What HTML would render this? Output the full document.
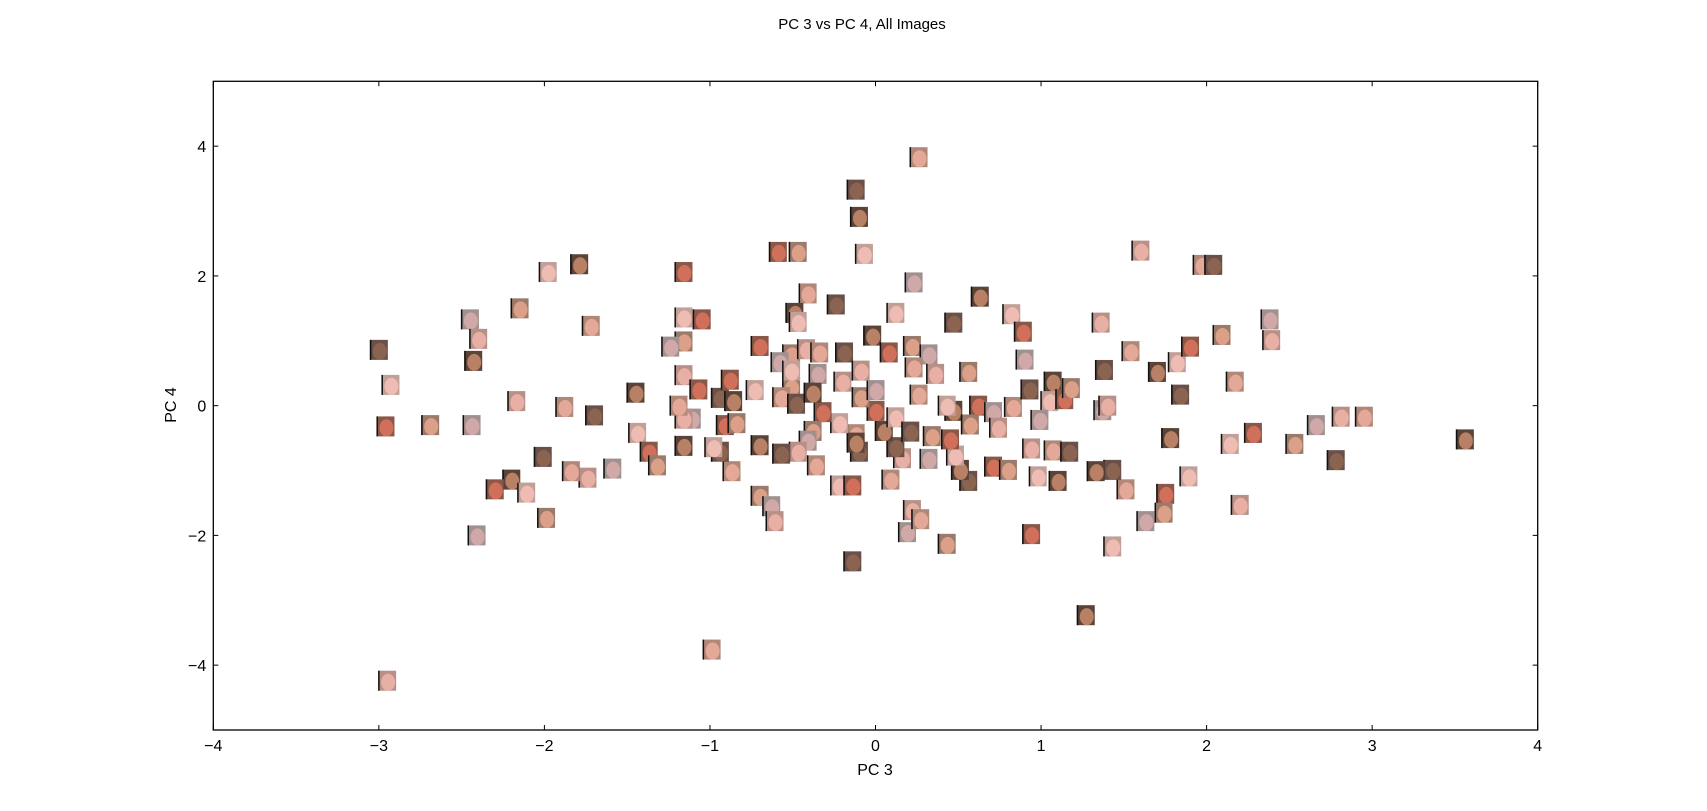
<!DOCTYPE html>
<html><head><meta charset="utf-8"><style>
html,body{margin:0;padding:0;background:#fff;}
svg{display:block;font-family:"Liberation Sans","DejaVu Sans",sans-serif;}
</style></head><body>
<svg id="chart" width="1707" height="811" viewBox="0 0 1707 811">
<rect width="1707" height="811" fill="#fff"/>
<text x="862" y="29" font-size="15" text-anchor="middle">PC 3 vs PC 4, All Images</text>
<text x="875" y="775" font-size="16" text-anchor="middle">PC 3</text>
<text x="0" y="0" font-size="16" text-anchor="middle" transform="translate(176,405) rotate(-90)">PC 4</text>
<g id="marks"></g>
<g id="axes"></g>
</svg>
<script>
const xTicks=[-4,-3,-2,-1,0,1,2,3,4];
const yTicks=[-4,-2,0,2,4];
const pc3=[0.26,-0.12,-0.10,-0.07,-0.59,-0.47,0.23,1.60,1.97,2.04,-1.79,-1.98,-1.16,-2.15,-2.45,-2.40,-1.72,-3.0,-2.43,-2.93,-2.96,-2.69,-2.44,-2.17,-1.88,-1.70,-1.45,-1.44,-1.37,-1.32,-1.59,-1.74,-1.84,-2.01,-2.20,-2.11,-2.30,-1.99,-2.41,-2.95,-0.99,-0.14,1.27,-1.16,-1.05,-1.16,-1.24,-1.16,-0.41,-0.24,-0.49,-0.47,-0.70,-0.51,-0.58,-0.42,-0.34,-0.19,-0.02,0.12,0.08,0.22,0.32,0.36,0.23,0.47,0.63,0.82,0.89,0.56,0.90,1.36,1.54,1.38,1.70,1.82,1.90,2.09,2.38,2.39,2.17,1.84,1.78,2.14,2.28,2.53,2.66,2.81,2.95,2.78,3.56,1.89,1.75,1.74,1.63,2.20,1.51,1.43,1.33,1.43,0.94,0.43,0.19,0.22,0.27,0.56,0.51,0.48,0.45,0.34,0.32,0.16,0.09,0.12,0.05,0.12,0.0,-0.09,0.0,-0.09,0.26,0.21,0.47,0.43,0.62,0.57,0.71,0.74,0.83,0.93,1.07,1.05,1.14,1.18,0.99,0.94,1.07,1.17,1.10,0.98,0.71,0.80,1.37,1.40,-0.12,-0.10,-0.12,-0.22,-0.32,-0.38,-0.41,-0.47,-0.36,-0.57,-0.70,-0.22,-0.14,-0.70,-0.63,-0.61,-0.87,-0.94,-1.16,-0.98,-0.91,-0.84,-1.11,-1.16,-1.19,-0.94,-0.86,-0.73,-0.88,-0.51,-0.35,-0.20,-0.57,-0.48,-0.38,-0.51,-1.07];
const pc4=[3.83,3.33,2.91,2.34,2.37,2.37,1.90,2.39,2.17,2.17,2.18,2.06,2.06,1.50,1.33,1.03,1.23,0.86,0.69,0.32,-0.32,-0.30,-0.30,0.07,-0.02,-0.15,0.20,-0.42,-0.71,-0.92,-0.97,-1.11,-1.01,-0.79,-1.14,-1.34,-1.29,-1.73,-2.0,-4.24,-3.76,-2.40,-3.23,1.36,1.33,0.99,0.91,0.47,1.73,1.56,1.43,1.29,0.92,0.79,0.67,0.87,0.82,0.82,1.08,1.43,0.82,0.92,0.79,0.49,0.59,1.28,1.68,1.41,1.14,0.52,0.71,1.28,0.84,0.55,0.52,0.67,0.91,1.09,1.33,1.01,0.37,0.17,-0.50,-0.59,-0.42,-0.59,-0.30,-0.17,-0.17,-0.84,-0.52,-1.09,-1.36,-1.65,-1.78,-1.53,-1.29,-0.99,-1.01,-2.17,-1.98,-2.13,-1.95,-1.61,-1.75,-1.16,-0.99,-0.77,-0.52,-0.47,-0.82,-0.81,-1.14,-0.64,-0.39,-0.18,-0.08,0.13,0.24,0.54,0.17,-0.40,-0.08,0,0,-0.29,-0.10,-0.34,-0.02,0.25,0.37,0.07,0.10,0.27,-0.22,-0.66,-0.69,-0.71,-1.16,-1.09,-0.94,-0.99,-0.07,0,-0.44,-0.71,-0.57,-0.27,-0.10,-0.39,-0.54,-0.71,-0.92,-0.74,-0.61,-1.23,-1.23,-1.39,-1.55,-1.78,-1.01,-0.71,-0.62,-0.64,-0.30,-0.27,-0.20,-0.20,0,0.12,0.07,0.24,0.40,0.29,0.49,0.37,0.13,0.03,0.20,0.54,0.25];

const L=213.3,R=1537.7,T=81.3,B=730;
const xs=v=>L+(v+4)/8*(R-L);
const ys=v=>B-(v+5)/10*(B-T);
const NS="http://www.w3.org/2000/svg";
const marks=document.getElementById('marks');
const axes=document.getElementById('axes');
function mk(tag,attrs,parent){const e=document.createElementNS(NS,tag);for(const k in attrs)e.setAttribute(k,attrs[k]);parent.appendChild(e);return e;}
const bgs=['#b08878','#9a7a6a','#5a4438','#b89088','#8a5848','#6a5048','#a09090','#c0a098'];
const faces=['#e4a898','#dca088','#b88064','#e8b0a4','#d0705a','#8a6450','#d0a8a8','#eebcb2'];
const W=18,H=20;
for(let i=0;i<pc3.length;i++){
  const cx=xs(pc3[i]),cy=ys(pc4[i]);const c=(i*5)%bgs.length;
  const g=mk('g',{},marks);
  
  
  mk('rect',{x:cx-W/2,y:cy-H/2,width:W,height:H,fill:bgs[c]},g);
  mk('ellipse',{cx:cx+1,cy:cy+1.5,rx:7,ry:8.5,fill:faces[c]},g);
  mk('rect',{x:cx-W/2,y:cy-H/2,width:1.5,height:H,fill:'#111'},g);
}
const frame=mk('rect',{x:L,y:T,width:R-L,height:B-T,fill:'none',stroke:'#000','stroke-width':1.3},axes);


xTicks.forEach(v=>{const x=xs(v);
  mk('line',{x1:x,x2:x,y1:B,y2:B-5,stroke:'#000'},axes);
  mk('line',{x1:x,x2:x,y1:T,y2:T+5,stroke:'#000'},axes);
  const t=mk('text',{x:x,y:B+21,'font-size':16,'text-anchor':'middle'},axes);
  t.textContent=(v<0?'\u2212'+(-v):String(v));
  
  
});
yTicks.forEach(v=>{const y=ys(v);
  mk('line',{x1:L,x2:L+5,y1:y,y2:y,stroke:'#000'},axes);
  mk('line',{x1:R,x2:R-5,y1:y,y2:y,stroke:'#000'},axes);
  const t=mk('text',{x:L-7,y:y+6,'font-size':16,'text-anchor':'end'},axes);
  t.textContent=(v<0?'\u2212'+(-v):String(v));
  
  
});
</script>
</body></html>
